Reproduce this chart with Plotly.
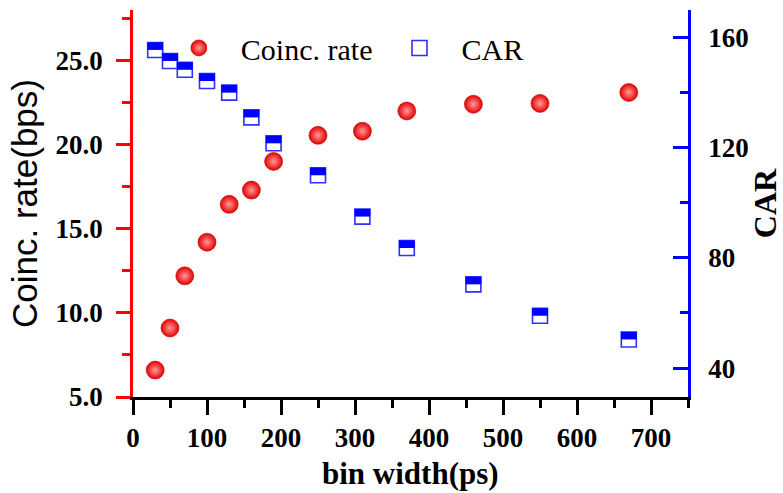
import plotly.graph_objects as go

# ---- data ----
bin_width = [30, 50, 70, 100, 130, 160, 190, 250, 310, 370, 460, 550, 670]
coinc_rate = [6.6, 9.1, 12.2, 14.2, 16.45, 17.3, 19.0, 20.55, 20.8, 22.0, 22.4, 22.45, 23.1]
car = [155.5, 151.5, 148.3, 144.2, 140.0, 131.0, 121.6, 110.0, 95.0, 83.6, 70.4, 59.0, 50.4]

x_ticks = [0, 100, 200, 300, 400, 500, 600, 700]
left_ticks = [5, 10, 15, 20, 25]
right_ticks = [40, 80, 120, 160]

X_RANGE = [0, 750]
Y1_RANGE = [5, 28]
Y2_RANGE = [29.5, 170]
PLOT_H = 493 - 10 - 96
HALF_SHIFT = 3.75 * (Y2_RANGE[1] - Y2_RANGE[0]) / PLOT_H  # shift half-fill up by 3.75 px

serif = "Liberation Serif"
sans = "Liberation Sans"
RED = "#ff0000"
BLUE = "#0000ff"

fig = go.Figure()

fig.add_trace(go.Scatter(
    x=bin_width, y=coinc_rate, mode="markers", name="Coinc. rate",
    xaxis="x", yaxis="y",
    marker=dict(symbol="circle", size=18, color="#e60000",
                gradient=dict(type="radial", color="#ff9a9a"),
                line=dict(width=0.6, color="#c00000")),
))
fig.add_trace(go.Scatter(
    x=bin_width, y=car, mode="markers", name="CAR",
    xaxis="x", yaxis="y2",
    marker=dict(symbol="square", size=15, color="white",
                line=dict(width=1.6, color="#3030ff")),
))
fig.add_trace(go.Scatter(
    x=bin_width, y=car, mode="markers", name="CAR fill", showlegend=False,
    xaxis="x", yaxis="y3",
    marker=dict(symbol="line-ew", size=11.2, color=BLUE,
                line=dict(width=7.5, color=BLUE)),
))

tickfont = dict(family=serif, size=27, color="black", weight="bold")

fig.update_layout(
    width=783, height=493,
    margin=dict(l=133, r=95, t=10, b=96),
    paper_bgcolor="white", plot_bgcolor="white",
    showlegend=True,
    legend=dict(orientation="h", x=0.043, y=0.902, xanchor="left", yanchor="middle",
                font=dict(family=serif, size=30, color="black"),
                itemwidth=74, bgcolor="rgba(0,0,0,0)", borderwidth=0,
                traceorder="normal"),
    xaxis=dict(range=X_RANGE, tickvals=x_ticks, ticks="outside", ticklen=15, tickwidth=2.5,
               tickcolor="black", showline=True, linecolor="black", linewidth=2.5,
               showgrid=False, zeroline=False, tickfont=tickfont, ticklabelstandoff=0,
               automargin=False,
               minor=dict(dtick=50, tick0=0, ticks="outside", ticklen=8, tickwidth=2.5,
                          tickcolor="black", showgrid=False)),
    xaxis2=dict(range=X_RANGE, overlaying="x", side="top", anchor="y",
                tickvals=x_ticks, ticks="inside", ticklen=15, tickwidth=2.5, tickcolor="black",
                showline=True, linecolor="black", linewidth=2.5, showticklabels=False,
                showgrid=False, zeroline=False, automargin=False,
                minor=dict(dtick=50, tick0=0, ticks="inside", ticklen=8, tickwidth=2.5,
                           tickcolor="black", showgrid=False)),
    yaxis=dict(range=Y1_RANGE, tickvals=left_ticks, tickformat=".1f", ticks="outside",
               ticklen=14, tickwidth=2.5, tickcolor=RED, showline=True, linecolor=RED,
               linewidth=2.5, showgrid=False, zeroline=False, tickfont=tickfont,
               ticklabelstandoff=8, automargin=False,
               minor=dict(dtick=2.5, tick0=5, ticks="outside", ticklen=8, tickwidth=2.5,
                          tickcolor=RED, showgrid=False),
               title=dict(text="Coinc. rate(bps)", standoff=8,
                          font=dict(family=sans, size=35, color="black"))),
    yaxis2=dict(range=Y2_RANGE, overlaying="y", side="right", anchor="x",
                tickvals=right_ticks, ticks="inside", ticklen=15, tickwidth=2.5,
                tickcolor=BLUE, showline=True, linecolor=BLUE, linewidth=2.5,
                showgrid=False, zeroline=False, tickfont=tickfont, ticklabelstandoff=12,
                automargin=False,
                minor=dict(dtick=20, tick0=40, ticks="inside", ticklen=8, tickwidth=2.5,
                           tickcolor=BLUE, showgrid=False),
                title=dict(text="CAR", standoff=18,
                           font=dict(family=serif, size=32, color="black", weight="bold"))),
    yaxis3=dict(range=[Y2_RANGE[0] - HALF_SHIFT, Y2_RANGE[1] - HALF_SHIFT],
                overlaying="y", anchor="x", visible=False),
    annotations=[dict(text="bin width(ps)", xref="paper", yref="paper",
                      x=0.5, y=-0.197, xanchor="center", yanchor="middle",
                      showarrow=False,
                      font=dict(family=serif, size=31, color="black", weight="bold"))],
)

fig.write_html("out.html")
